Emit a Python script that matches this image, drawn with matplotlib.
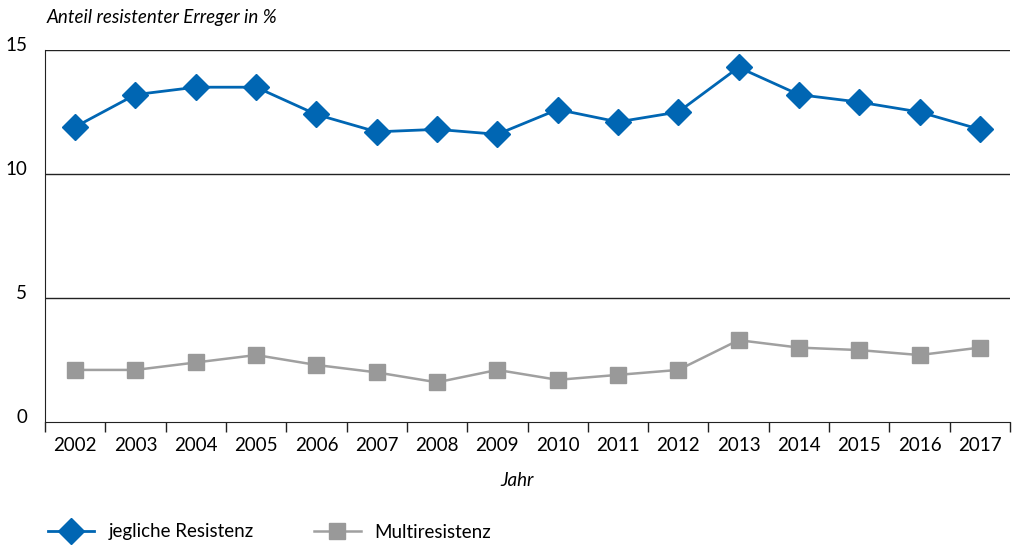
import matplotlib.pyplot as plt
import matplotlib.transforms as mtransforms
from matplotlib.lines import Line2D

years = [str(y) for y in range(2002, 2018)]
jegliche = [11.9, 13.2, 13.5, 13.5, 12.4, 11.7, 11.8, 11.6, 12.6, 12.1, 12.5, 14.3, 13.2, 12.9, 12.5, 11.8]
multi = [2.1, 2.1, 2.4, 2.7, 2.3, 2.0, 1.6, 2.1, 1.7, 1.9, 2.1, 3.3, 3.0, 2.9, 2.7, 3.0]
yticks = [0, 5, 10, 15]

blue = "#0066b3"
gray = "#a0a0a0"
fs = 13.5

plt.rcParams["font.family"] = ["Lato", "DejaVu Sans"]

fig = plt.figure(figsize=(10.14, 5.45), dpi=100)
ax = fig.add_axes([45 / 1014, 1 - 422 / 545, 965 / 1014, 372 / 545])

x = range(len(years))
ax.plot(x, multi, color=gray, lw=1.8, marker="s", markersize=12,
        markerfacecolor="#999999", markeredgecolor="#999999", zorder=3)
ax.plot(x, jegliche, color=blue, lw=2, marker="D", markersize=13,
        markerfacecolor=blue, markeredgecolor=blue, zorder=4)

ax.set_xlim(-0.5, len(years) - 0.5)
ax.set_ylim(0, 15)
for y in yticks[1:]:
    ax.axhline(y, color="#222222", lw=1, zorder=1)

ax.set_yticks(yticks)
ax.set_yticklabels([str(v) for v in yticks], fontsize=fs)
ax.tick_params(axis="y", length=0, pad=13)
offset = mtransforms.ScaledTranslation(0, 6 / 100, fig.dpi_scale_trans)
for lab in ax.get_yticklabels():
    lab.set_transform(lab.get_transform() + offset)

ax.set_xticks([i - 0.5 for i in range(len(years) + 1)])
ax.set_xticklabels([""] * (len(years) + 1))
ax.set_xticks(list(x), minor=True)
ax.set_xticklabels(years, minor=True, fontsize=fs)
ax.tick_params(axis="x", which="major", direction="out", length=7, width=1, color="#222222")
ax.tick_params(axis="x", which="minor", length=0, pad=11)

for side in ["top", "right"]:
    ax.spines[side].set_visible(False)
ax.spines["left"].set_color("#222222")
ax.spines["bottom"].set_color("#222222")

fig.text(47 / 1014, 1 - 17 / 545, "Anteil resistenter Erreger in %", style="italic",
         fontsize=fs, va="center", ha="left")
fig.text(0.5 + 10 / 1014, 1 - 480 / 545, "Jahr", style="italic", fontsize=fs, va="center", ha="center")

handles = [
    Line2D([], [], color=blue, lw=2, marker="D", markersize=13),
    Line2D([], [], color=gray, lw=1.8, marker="s", markersize=12,
           markerfacecolor="#999999", markeredgecolor="#999999"),
]
fig.legend(handles, ["jegliche Resistenz", "Multiresistenz"], loc="center left",
           bbox_to_anchor=(40 / 1014, 1 - 532 / 545), ncol=2, frameon=False,
           fontsize=fs, handlelength=2.5, columnspacing=3.2, handletextpad=0.75,
           borderaxespad=0)

fig.savefig("out.png", dpi=100)
